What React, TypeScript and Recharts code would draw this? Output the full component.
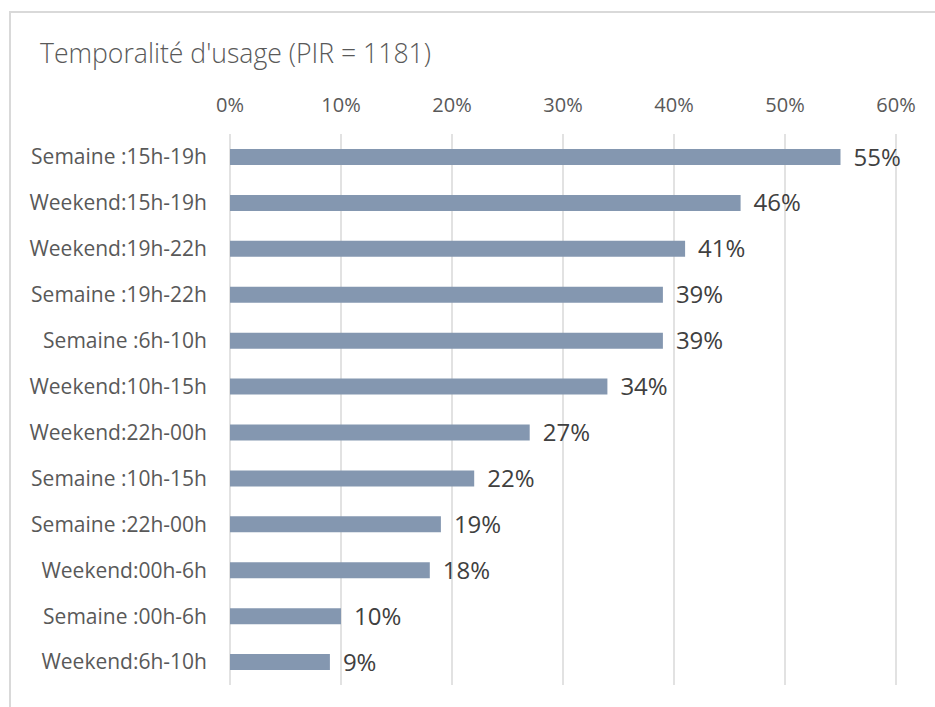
import React from 'react';
import { BarChart, Bar, XAxis, YAxis, CartesianGrid, LabelList } from 'recharts';

// Usage time slots, sorted by share of respondents
const categories = [
  'Semaine :15h-19h',
  'Weekend:15h-19h',
  'Weekend:19h-22h',
  'Semaine :19h-22h',
  'Semaine :6h-10h',
  'Weekend:10h-15h',
  'Weekend:22h-00h',
  'Semaine :10h-15h',
  'Semaine :22h-00h',
  'Weekend:00h-6h',
  'Semaine :00h-6h',
  'Weekend:6h-10h',
];
const shares = [55, 46, 41, 39, 39, 34, 27, 22, 19, 18, 10, 9];
const percentTicks = [0, 10, 20, 30, 40, 50, 60];

const title = "Temporalité d'usage (PIR = 1181)";

const FONT = '"Open Sans", "DejaVu Sans", sans-serif';
const BAR_COLOR = '#8497B0';
const GRID_COLOR = '#D9D9D9';
const TEXT_COLOR = '#595959';
const LABEL_COLOR = '#404040';

const data = categories.map((name, i) => ({ name, value: shares[i] }));

const pct = (v: number) => `${v}%`;

const App: React.FC = () => {
  return (
    <div
      style={{
        position: 'fixed',
        left: 0,
        top: 0,
        width: 935,
        height: 707,
        background: '#fff',
        overflow: 'hidden',
        fontFamily: FONT,
      }}
    >
      {/* chart frame, cut off at right and bottom */}
      <div
        style={{
          position: 'absolute',
          left: 9,
          top: 11,
          width: 1000,
          height: 800,
          borderTop: `2px solid ${GRID_COLOR}`,
          borderLeft: `2px solid ${GRID_COLOR}`,
        }}
      />
      <div
        style={{
          position: 'absolute',
          left: 40,
          top: 40,
          fontSize: 26.6,
          fontWeight: 300,
          lineHeight: '26px',
          color: TEXT_COLOR,
          whiteSpace: 'nowrap',
        }}
      >
        {title}
      </div>
      <div style={{ position: 'absolute', left: 0, top: 0 }}>
        <BarChart
          width={935}
          height={707}
          data={data}
          layout="vertical"
          margin={{ top: 104, right: 39, bottom: 22, left: 0 }}
          barCategoryGap="32%"
        >
          <CartesianGrid
            horizontal={false}
            vertical
            stroke={GRID_COLOR}
            strokeWidth={1.5}
          />
          <XAxis
            type="number"
            orientation="top"
            domain={[0, 60]}
            ticks={percentTicks}
            tickFormatter={pct}
            axisLine={false}
            tickLine={false}
            tickSize={6}
            tickMargin={16}
            height={30}
            interval={0}
            tick={{ fill: TEXT_COLOR, fontSize: 20, fontFamily: FONT }}
          />
          <YAxis
            type="category"
            dataKey="name"
            width={230}
            axisLine={false}
            tickLine={false}
            tickSize={6}
            tickMargin={17}
            interval={0}
            tick={{ fill: TEXT_COLOR, fontSize: 21, fontFamily: FONT }}
          />
          <Bar dataKey="value" fill={BAR_COLOR} barSize={16} isAnimationActive={false}>
            <LabelList
              dataKey="value"
              position="right"
              offset={13}
              formatter={pct}
              fill={LABEL_COLOR}
              fontSize={24}
              fontFamily={FONT}
            />
          </Bar>
        </BarChart>
      </div>
    </div>
  );
};

export default App;
